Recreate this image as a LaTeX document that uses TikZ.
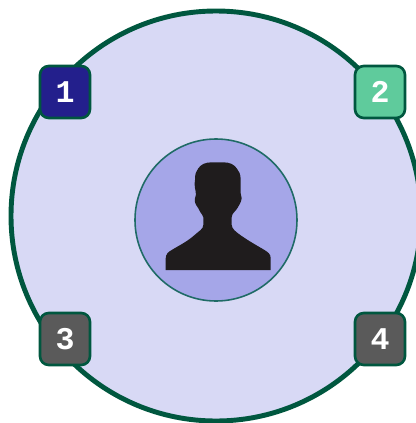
\documentclass[tikz,border=0pt]{standalone}
\usepackage{xcolor}
\usepackage{fontspec}
\setmonofont{Liberation Mono}
\definecolor{ringgreen}{HTML}{00573F}
\definecolor{innerline}{HTML}{1F6B66}
\definecolor{discfill}{HTML}{D8D9F5}
\definecolor{innerfill}{HTML}{A5A6E8}
\definecolor{navybox}{HTML}{231F8C}
\definecolor{mintbox}{HTML}{5FCB9C}
\definecolor{greybox}{HTML}{5A5A5A}
\definecolor{figureblack}{HTML}{1F1C1D}
\tikzset{
  numbox/.style={draw=ringgreen, line width=1.5pt, rounded corners=5pt, minimum width=1cm, minimum height=1.04cm, inner sep=0pt, text=white, font=\ttfamily\bfseries\fontsize{18}{18}\selectfont}
}
\begin{document}
\begin{tikzpicture}[x=0.02cm, y=-0.02cm]
    \useasboundingbox (0,0) rectangle (416,423);
    % Circles
    \draw[ringgreen, fill=discfill, line width=2.8pt] (216,216) circle (205);
    \draw[innerline, fill=innerfill, line width=0.9pt] (216,220) circle (81);

    % Person
    \fill[figureblack] (165.7,270) -- (165.7,258.3)
        .. controls (166,254) and (168,252) .. (171.7,250)
        .. controls (180,245) and (188,241) .. (194,235.5)
        .. controls (199,231) and (203.3,229) .. (203.3,225)
        -- (203.3,217.3)
        .. controls (202,213) and (199,212) .. (198.3,208.3)
        .. controls (196,205) and (194,202) .. (195,198.3)
        .. controls (196,196) and (196,194) .. (195.7,191.7)
        .. controls (194.5,187) and (194.5,183) .. (195,180)
        .. controls (195,174) and (196,171) .. (198.3,168.3)
        .. controls (201,164.5) and (205,162.3) .. (212,162.3)
        -- (223,162.3)
        .. controls (230,162.3) and (234,164.5) .. (236.7,168.3)
        .. controls (239,171) and (240.7,174) .. (240.7,180)
        -- (240.7,193.3)
        .. controls (241,195) and (242,196) .. (241.7,198.3)
        .. controls (241,203) and (239,205) .. (237.3,208.3)
        .. controls (235,212) and (232,213) .. (231.7,217.3)
        -- (231.7,225)
        .. controls (232,229) and (236,232) .. (241,235.5)
        .. controls (248,240.5) and (256,245) .. (263.3,249.3)
        .. controls (268,252) and (270.7,254) .. (270.7,258.3)
        -- (270.7,270) -- cycle;

    % Boxes
    \node[numbox, fill=navybox] (one) at (65,92) {1};
    \node[numbox, fill=mintbox] (two) at (380,92) {2};
    \node[numbox, fill=greybox] (three) at (65,339) {3};
    \node[numbox, fill=greybox] (four) at (380,339) {4};
\end{tikzpicture}
\end{document}
